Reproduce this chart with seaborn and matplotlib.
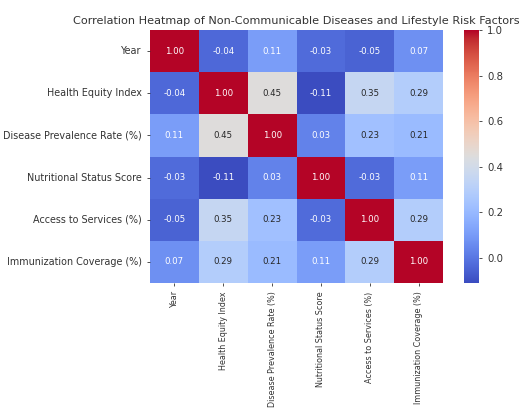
import numpy as np
import pandas as pd
import seaborn as sns
import matplotlib
matplotlib.use("Agg")
import matplotlib.pyplot as plt

labels = [
    "Year",
    "Health Equity Index",
    "Disease Prevalence Rate (%)",
    "Nutritional Status Score",
    "Access to Services (%)",
    "Immunization Coverage (%)",
]

row_year = [1.00, -0.04, 0.11, -0.03, -0.05, 0.07]
row_equity = [-0.04, 1.00, 0.45, -0.11, 0.35, 0.29]
row_prevalence = [0.11, 0.45, 1.00, 0.03, 0.23, 0.21]
row_nutrition = [-0.03, -0.11, 0.03, 1.00, -0.03, 0.11]
row_access = [-0.05, 0.35, 0.23, -0.03, 1.00, 0.29]
row_immunization = [0.07, 0.29, 0.21, 0.11, 0.29, 1.00]

corr = pd.DataFrame(
    [row_year, row_equity, row_prevalence, row_nutrition, row_access, row_immunization],
    index=labels,
    columns=labels,
)

W, H = 523, 409
fig = plt.figure(figsize=(W / 100, H / 100), dpi=100)
ax = fig.add_axes([150 / W, 1 - 283 / H, (443 - 150) / W, (283 - 30) / H])
cax = fig.add_axes([464 / W, 1 - 283 / H, (479 - 464) / W, (283 - 30) / H])

sns.heatmap(
    corr,
    ax=ax,
    cbar_ax=cax,
    cmap="coolwarm",
    annot=True,
    fmt=".2f",
    annot_kws={"fontsize": 6.2},
)

ax.set_title(
    "Correlation Heatmap of Non-Communicable Diseases and Lifestyle Risk Factors",
    fontsize=8.1,
    color="#333333",
    pad=4,
)
ax.tick_params(axis="both", length=2.5, width=0.6, colors="#333333")
ax.set_xticklabels(labels, rotation=90, fontsize=5.8)
ax.set_yticklabels(labels, rotation=0, fontsize=6.95)
ax.set_xlabel("")
ax.set_ylabel("")

cax.tick_params(labelsize=7.3, length=2.5, width=0.6, colors="#333333")
cax.set_yticks([0.0, 0.2, 0.4, 0.6, 0.8, 1.0])

fig.savefig("out.png", dpi=100)
